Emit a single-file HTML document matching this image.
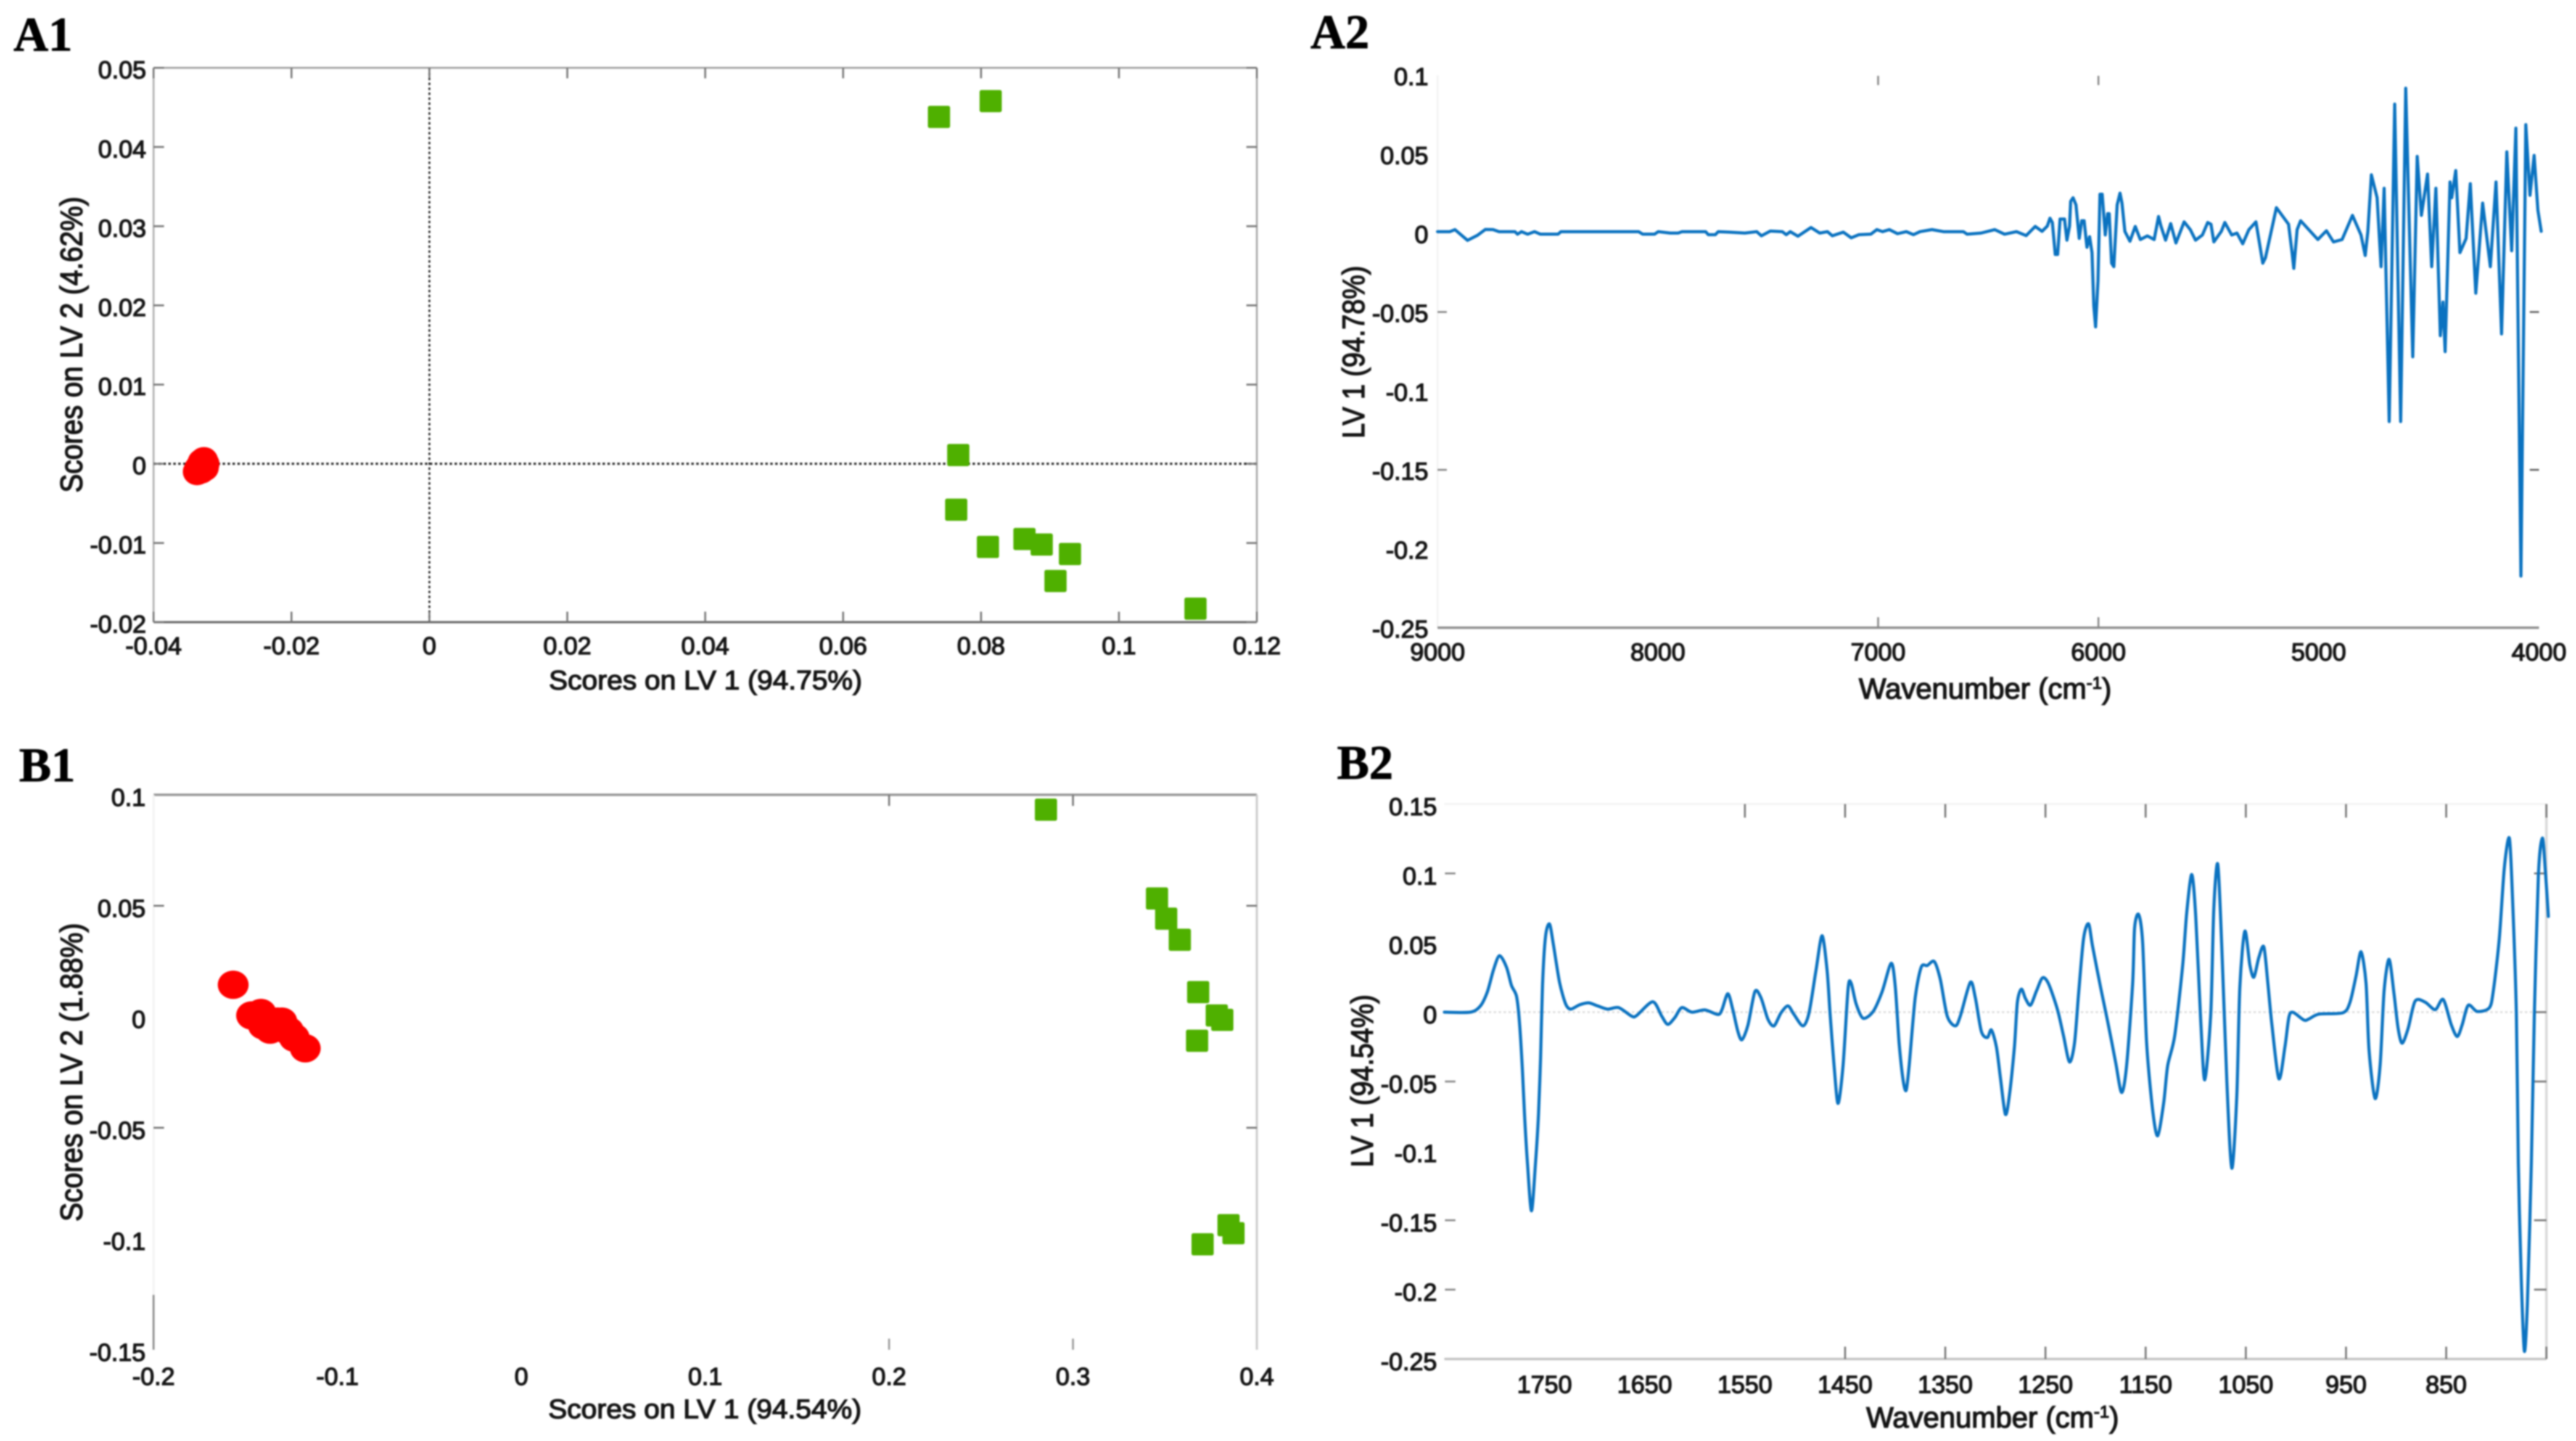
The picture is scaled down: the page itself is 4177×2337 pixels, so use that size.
<!DOCTYPE html>
<html lang="en">
<head>
<meta charset="utf-8">
<title>PLS-DA scores and loadings, panels A1 A2 B1 B2</title>
<style>
html,body{margin:0;padding:0;background:#fff;}
#figure{display:block;width:4177px;height:2337px;background:#fff;filter:blur(1.3px);}
text{font-family:"Liberation Sans",sans-serif;fill:#141414;}
.tick-label{font-size:40px;stroke:#141414;stroke-width:1.5px;}
.axis-title{font-size:44px;stroke:#141414;stroke-width:1.5px;}
.axis-title-y{font-size:50px;stroke:#141414;stroke-width:1.6px;}
.panel-label{font-family:"Liberation Serif",serif;font-weight:700;font-size:78px;fill:#000;stroke:#000;stroke-width:1px;}
</style>
</head>
<body>
<svg id="figure" xmlns="http://www.w3.org/2000/svg" width="4177" height="2337" viewBox="0 0 4177 2337">
  <rect x="0" y="0" width="4177" height="2337" fill="#ffffff"/>

  <text class="panel-label" x="22" y="82">A1</text>
  <text class="panel-label" x="2125" y="78">A2</text>
  <text class="panel-label" x="31" y="1267">B1</text>
  <text class="panel-label" x="2168" y="1263">B2</text>

  <g id="panel-a1"></g>
  <g id="panel-a2"></g>
  <g id="panel-b1"></g>
  <g id="panel-b2"></g>

  <text class="axis-title" x="1144" y="1118" text-anchor="middle" textLength="508" lengthAdjust="spacingAndGlyphs">Scores on LV 1 (94.75%)</text>
  <text class="axis-title-y" text-anchor="middle" textLength="480" lengthAdjust="spacingAndGlyphs" transform="translate(133,559) rotate(-90)">Scores on LV 2 (4.62%)</text>

  <text class="axis-title" x="3219" y="1133" text-anchor="middle" style="font-size:47px">Wavenumber (cm<tspan font-size="28" dy="-16">-1</tspan><tspan dy="16">)</tspan></text>
  <text class="axis-title-y" text-anchor="middle" textLength="280" lengthAdjust="spacingAndGlyphs" transform="translate(2212,571) rotate(-90)">LV 1 (94.78%)</text>

  <text class="axis-title" x="1143" y="2300" text-anchor="middle" textLength="508" lengthAdjust="spacingAndGlyphs">Scores on LV 1 (94.54%)</text>
  <text class="axis-title-y" text-anchor="middle" textLength="484" lengthAdjust="spacingAndGlyphs" transform="translate(133,1739) rotate(-90)">Scores on LV 2 (1.88%)</text>

  <text class="axis-title" x="3231" y="2315" text-anchor="middle" style="font-size:47px">Wavenumber (cm<tspan font-size="28" dy="-16">-1</tspan><tspan dy="16">)</tspan></text>
  <text class="axis-title-y" text-anchor="middle" textLength="280" lengthAdjust="spacingAndGlyphs" transform="translate(2226,1753) rotate(-90)">LV 1 (94.54%)</text>
</svg>

<script>
/* ---------- Panel A1 data ---------- */
var a1XTicks = [-0.04,-0.02,0,0.02,0.04,0.06,0.08,0.1,0.12];
var a1YTicks = [0.05,0.04,0.03,0.02,0.01,0,-0.01,-0.02];
var a1ClassAX = [-0.0337,-0.0335,-0.0332,-0.0330,-0.0327,-0.0325,-0.0326,-0.0331];
var a1ClassAY = [-0.0010,-0.0006,-0.0002,0.0002,0.0004,0.0000,-0.0005,-0.0008];
var a1ClassBX = [0.0739,0.0814,0.0767,0.0764,0.0810,0.0863,0.0888,0.0929,0.0908,0.1111];
var a1ClassBY = [0.0438,0.0458,0.0011,-0.0058,-0.0105,-0.0095,-0.0102,-0.0114,-0.0148,-0.0183];

/* ---------- Panel B1 data ---------- */
var b1XTicks = [-0.2,-0.1,0,0.1,0.2,0.3,0.4];
var b1YTicks = [0.1,0.05,0,-0.05,-0.1,-0.15];
var b1EdgeXTicks = [0.2,0.3];
var b1EdgeYTicks = [0.05,-0.05];
var b1ClassAX = [-0.1567,-0.1467,-0.1416,-0.1403,-0.1366,-0.1326,-0.1302,-0.1266,-0.1235,-0.1175];
var b1ClassAY = [0.0144,0.0006,0.0017,-0.0039,-0.0058,-0.0022,-0.0022,-0.0064,-0.0094,-0.0142];
var b1ClassBX = [0.2853,0.3457,0.3507,0.3581,0.3681,0.3782,0.3812,0.3675,0.3705,0.3846,0.3873];
var b1ClassBY = [0.0933,0.0533,0.0442,0.0347,0.0111,0.0006,-0.0014,-0.0108,-0.1025,-0.0939,-0.0975];

/* ---------- Panel A2 data ---------- */
var a2XTicks = [9000,8000,7000,6000,5000,4000];
var a2YTicks = [0.1,0.05,0,-0.05,-0.1,-0.15,-0.2,-0.25];
var a2EdgeXTicks = [7000,6000];
var a2EdgeYTicks = [-0.05,-0.15];
var a2Wavenumber = [9000,8944,8921,8864,8819,8783,8748,8721,8649,8637,8619,8591,8560,8533,8453,8440,8087,8069,8015,7998,7944,7908,7890,7783,7771,7739,7726,7676,7605,7551,7530,7489,7435,7417,7399,7364,7305,7265,7230,7208,7158,7122,7087,7033,7006,6980,6949,6912,6872,6840,6810,6756,6703,6613,6596,6533,6471,6426,6372,6328,6287,
6256,6232,6220,6209,6196,6185,6174,6154,6143,6131,6126,6115,6102,6087,6076,6065,6052,6040,6029,6021,6013,6002,5993,5983,5969,5958,5951,5940,5930,5915,5902,5893,5880,5857,5833,5810,5778,5747,5727,5716,5695,5672,5648,5611,5583,5559,5528,5504,5489,5476,5442,5426,5395,5371,5345,5317,5285,5270,5254,5242,5192,5137,5121,5113,5098,5082,5004,4965,4933,4894,4847,4808,4789,4777,4761,4735,4717,4703,4680,4655,4628,4605,4573,4553,4534,4506,4487,4468,4448,4436,4426,4404,4396,4378,4359,4331,4312,4287,4256,4221,4195,4170,4146,4124,4105,4082,4060,4041,4022,4005,3990];
var a2Loading = [0.0009,0.0009,0.0022,-0.0046,-0.0014,0.0023,0.0022,0.0009,0.0009,-0.0007,0.0009,-0.0007,0.0009,-0.0007,-0.0007,0.0009,0.0009,-0.0007,-0.0007,0.0009,0,0,0.0009,0.0009,-0.001,-0.001,0.0009,0.0006,0,0.0009,-0.0017,0.0013,0.0009,-0.001,0.0009,-0.002,0.0035,0,0.0009,-0.0017,0.0006,-0.003,-0.001,-0.0007,0.0022,0.0009,0.0022,-0.0004,0.0009,-0.001,0.0009,0.0022,0.0009,0.0009,-0.0007,0,0.0022,-0.0007,0.0009,-0.0016,0.0042,
0.0011,0.0044,0.0094,0.0067,-0.0135,-0.0135,0.0089,0.0089,-0.0045,0.0044,0.0201,0.0224,0.0179,-0.0034,0.0078,0.0078,-0.0090,-0.0023,-0.0124,-0.0460,-0.0594,-0.0303,0.0246,0.0246,-0.0012,0.0123,0.0123,-0.0191,-0.0213,0.0179,0.0253,0.0190,0.0011,-0.0052,0.0042,-0.0041,-0.0018,-0.0041,0.0105,0.0044,-0.0045,0.0060,-0.0063,0.0071,0.0022,-0.0045,-0.0012,0.0067,0.0056,-0.0056,0.0011,0.0067,-0.0012,0,-0.0068,0.0022,0.0071,-0.0056,-0.0191,-0.0157,0.0161,0.0056,-0.0124,-0.0224,0.0022,0.0078,-0.0041,0.0015,-0.0056,-0.0041,0.0112,-0.0012,-0.0142,0.0011,0.0369,0.0224,-0.0213,0.0284,-0.1194,0.0817,-0.1194,0.0918,-0.0784,0.0486,0.0112,0.0374,-0.0213,0.0284,-0.0650,-0.0437,-0.0751,0.0324,0.0224,0.0396,-0.0124,-0.0034,0.0313,-0.0381,0.0190,-0.0213,0.0324,-0.0639,0.0515,-0.0112,0.0665,-0.2173,0.0687,0.0239,0.0492,0.0145,0.0011];

/* ---------- Panel B2 data ---------- */
var b2XTicks = [1750,1650,1550,1450,1350,1250,1150,1050,950,850];
var b2YTicks = [0.15,0.1,0.05,0,-0.05,-0.1,-0.15,-0.2,-0.25];
var b2TopTicks = [1550,1450,1350,1250,1150,1050,950,850,750];
var b2BottomTicks = [1450,1350,1250,1150,1050,950,850,750];
var b2LeftTicks = [0.1,-0.05,-0.15,-0.2];
var b2RightTicks = [0.1,0,-0.05,-0.15,-0.2];
var b2Wavenumber = [1850,1824,1814,1807,1801,1795,1788,1783,1778,1775,1772,1770,1767,1763,1759,1756,1754,1752,1749,1745,1741,1735,1729,1724,1715,1706,1697,1687,1676,1663,1658,1642,1633,1627,1620,1613,1603,1590,1577,1573,1567,1562,1557,1553,1547,1540,1534,1527,1521,1514,1507,1501,1492,1486,1479,1473,1468,1465,1461,1457,1452,1447,1444,1439,1432,1422,1413,1404,1400,1396,1392,1389,1386,1380,1374,1368,1361,1355,1348,1340,1335,1325,1320,1314,1308,1304,1299,1295,1290,
1286,1281,1278,1274,1270,1265,1259,1253,1247,1238,1232,1226,1221,1217,1212,1207,1203,1195,1188,1180,1174,1169,1163,1161,1157,1153,1149,1143,1138,1132,1128,1121,1113,1109,1104,1100,1095,1091,1085,1082,1078,1074,1069,1064,1059,1056,1051,1046,1042,1037,1032,1028,1024,1017,1011,1007,1003,992,987,977,953,946,940,935,930,927,921,916,912,907,902,898,894,888,881,871,861,853,845,839,834,828,819,807,803,797,792,787,784,780,778,775,772,769,765,762,758,754,751,748];
var b2Loading = [0,0,0.0045,0.0148,0.0303,0.0407,0.0325,0.0193,0.0115,-0.0073,-0.0426,-0.0736,-0.1089,-0.1432,-0.1089,-0.0736,-0.0338,0.0193,0.0546,0.0635,0.0480,0.0215,0.0060,0.0022,0.0053,0.0067,0.0045,0.0022,0.0033,-0.0029,-0.0024,0.0075,-0.0029,-0.0088,-0.0040,0.0033,0,0.0016,-0.0017,0.0016,0.0133,0.0016,-0.0139,-0.0199,-0.0095,0.0148,0.0104,-0.0051,-0.0099,-0.0006,0.0045,-0.0017,-0.0099,-0.0006,0.0303,0.0551,0.0303,-0.0006,-0.0382,-0.0658,-0.0382,0.0170,0.0210,0.0060,-0.0044,0.0005,0.0148,0.0352,0.0193,-0.0227,-0.0493,-0.0563,-0.0382,0.0104,0.0325,0.0336,0.0365,0.0237,-0.0029,-0.0099,-0.0029,0.0215,0.0104,-0.0139,-0.0183,-0.0128,-0.0249,-0.0470,-0.0736,
-0.0601,-0.0251,0.0072,0.0166,0.0099,0.0050,0.0152,0.0247,0.0206,0.0018,-0.0170,-0.0359,-0.0224,0.0126,0.0529,0.0637,0.0475,0.0179,-0.0063,-0.0359,-0.0579,-0.0386,0.0206,0.0610,0.0704,0.0502,-0.0224,-0.0708,-0.0891,-0.0655,-0.0386,-0.0170,0.0341,0.0717,0.0992,0.0690,-0.0063,-0.0488,-0.0009,0.0744,0.1067,0.0475,-0.0493,-0.1125,-0.0601,0.0179,0.0583,0.0341,0.0252,0.0395,0.0470,0.0206,-0.0090,-0.0480,-0.0251,-0.0036,-0.0001,-0.0057,-0.0049,-0.0014,-0.0004,0.0072,0.0260,0.0435,0.0206,-0.0278,-0.0622,-0.0386,0.0152,0.0381,0.0126,-0.0117,-0.0224,-0.0117,0.0080,0.0072,0.0018,0.0091,-0.0090,-0.0176,-0.0090,0.0050,0.0005,0.0031,0.0152,0.0529,0.1040,0.1255,0.0852,-0.0009,-0.1085,-0.1946,-0.2444,-0.2107,-0.1085,-0.0009,0.0986,0.1255,0.1013,0.0690];

/* ---------- Axis functions ---------- */
function linear(d0, d1, r0, r1) {
  return function (v) { return r0 + (v - d0) / (d1 - d0) * (r1 - r0); };
}
var a1Sx = linear(-0.04, 0.12, 249, 2038);
var a1Sy = linear(-0.02, 0.05, 1009, 110);
var b1Sx = linear(-0.2, 0.4, 249, 2038);
var b1Sy = linear(-0.15, 0.1, 2189, 1289);
var a2Sx = linear(9000, 4000, 2331, 4117);
var a2Sy = linear(-0.25, 0.1, 1018, 122);
var b2Sx = linear(1850, 750, 2342, 4129);
var b2Sy = linear(-0.25, 0.15, 2204, 1304);

var SVG_NS = 'http://www.w3.org/2000/svg';

function drawLine(parent, name, x1, y1, x2, y2, color, width, dash) {
  var el = document.createElementNS(SVG_NS, 'line');
  
  
  el.setAttribute('x1', x1);
  el.setAttribute('y1', y1);
  el.setAttribute('x2', x2);
  el.setAttribute('y2', y2);
  el.setAttribute('stroke', color);
  el.setAttribute('stroke-width', width);
  if (dash) { el.setAttribute('stroke-dasharray', dash); }
  parent.appendChild(el);
}

function drawLabel(parent, name, x, y, anchor, content) {
  var el = document.createElementNS(SVG_NS, 'text');
  
  
  el.setAttribute('class', 'tick-label');
  el.setAttribute('x', x);
  el.setAttribute('y', y);
  el.setAttribute('text-anchor', anchor);
  el.textContent = content;
  parent.appendChild(el);
}

function xLabels(parent, prefix, values, sx, baseline) {
  values.forEach(function (v) {
    drawLabel(parent, prefix + '-x-tick-label', sx(v), baseline, 'middle', String(v));
  });
}
function yLabels(parent, prefix, values, sy, right, shift) {
  values.forEach(function (v) {
    drawLabel(parent, prefix + '-y-tick-label', right, sy(v) + shift, 'end', String(v));
  });
}
function xTickMarks(parent, name, values, sx, y, len, color, w) {
  values.forEach(function (v) {
    drawLine(parent, name, sx(v), y, sx(v), y + len, color, w);
  });
}
function yTickMarks(parent, name, values, sy, x, len, color, w) {
  values.forEach(function (v) {
    drawLine(parent, name, x, sy(v), x + len, sy(v), color, w);
  });
}

function drawSquares(parent, name, xs, ys, sx, sy, size) {
  xs.forEach(function (v, i) {
    var el = document.createElementNS(SVG_NS, 'rect');
    
    
    el.setAttribute('x', sx(v) - size / 2);
    el.setAttribute('y', sy(ys[i]) - size / 2);
    el.setAttribute('width', size);
    el.setAttribute('height', size);
    el.setAttribute('rx', 3);
    el.setAttribute('fill', '#4fb000');
    parent.appendChild(el);
  });
}
function drawCircles(parent, name, xs, ys, sx, sy, rx, ry) {
  xs.forEach(function (v, i) {
    var el = document.createElementNS(SVG_NS, 'ellipse');
    
    
    el.setAttribute('cx', sx(v));
    el.setAttribute('cy', sy(ys[i]));
    el.setAttribute('rx', rx);
    el.setAttribute('ry', ry);
    el.setAttribute('fill', '#ff0000');
    parent.appendChild(el);
  });
}
function straightPath(pts) {
  return pts.map(function (p, i) { return (i ? 'L' : 'M') + p[0].toFixed(1) + ' ' + p[1].toFixed(1); }).join('');
}
function smoothPath(pts) {
  var d = 'M' + pts[0][0].toFixed(1) + ' ' + pts[0][1].toFixed(1);
  for (var i = 0; i < pts.length - 1; i++) {
    var p0 = pts[Math.max(i - 1, 0)], p1 = pts[i], p2 = pts[i + 1], p3 = pts[Math.min(i + 2, pts.length - 1)];
    var k = 0.14;
    d += 'C' + (p1[0] + (p2[0] - p0[0]) * k).toFixed(1) + ' ' + (p1[1] + (p2[1] - p0[1]) * k).toFixed(1) + ' ' +
         (p2[0] - (p3[0] - p1[0]) * k).toFixed(1) + ' ' + (p2[1] - (p3[1] - p1[1]) * k).toFixed(1) + ' ' +
         p2[0].toFixed(1) + ' ' + p2[1].toFixed(1);
  }
  return d;
}
function drawSpectrum(parent, name, xs, ys, sx, sy, smooth, width) {
  var pts = xs.map(function (v, i) { return [sx(v), sy(ys[i])]; });
  var el = document.createElementNS(SVG_NS, 'path');
  
  
  el.setAttribute('d', smooth ? smoothPath(pts) : straightPath(pts));
  el.setAttribute('fill', 'none');
  el.setAttribute('stroke', '#0a72c0');
  el.setAttribute('stroke-width', width);
  el.setAttribute('stroke-linejoin', 'round');
  el.setAttribute('stroke-linecap', 'round');
  parent.appendChild(el);
}

/* ---------- Panel A1 ---------- */
var gA1 = document.getElementById('panel-a1');
drawLine(gA1, 'a1-top-axis', 249, 110, 2038, 110, '#a0a0a0', 3);
drawLine(gA1, 'a1-right-axis', 2038, 110, 2038, 1009, '#a8a8a8', 3);
drawLine(gA1, 'a1-bottom-axis', 249, 1009, 2038, 1009, '#666666', 3.5);
drawLine(gA1, 'a1-left-axis', 249, 110, 249, 1009, '#b0b0b0', 3);
drawLine(gA1, 'a1-zero-line-horizontal', 249, a1Sy(0), 2038, a1Sy(0), '#222222', 3.5, '4 4');
drawLine(gA1, 'a1-zero-line-vertical', a1Sx(0), 110, a1Sx(0), 1009, '#222222', 3, '4 4');
xTickMarks(gA1, 'a1-top-tick', a1XTicks, a1Sx, 110, 17, '#777777', 3);
xTickMarks(gA1, 'a1-bottom-tick', a1XTicks, a1Sx, 992, 17, '#777777', 3);
yTickMarks(gA1, 'a1-left-tick', a1YTicks, a1Sy, 249, 17, '#777777', 3);
yTickMarks(gA1, 'a1-right-tick', a1YTicks, a1Sy, 2021, 17, '#777777', 3);
xLabels(gA1, 'a1', a1XTicks, a1Sx, 1061);
yLabels(gA1, 'a1', a1YTicks, a1Sy, 237, 17);
drawCircles(gA1, 'a1-class-a-point', a1ClassAX, a1ClassAY, a1Sx, a1Sy, 23, 22);
drawSquares(gA1, 'a1-class-b-point', a1ClassBX, a1ClassBY, a1Sx, a1Sy, 36);

/* ---------- Panel B1 ---------- */
var gB1 = document.getElementById('panel-b1');
drawLine(gB1, 'b1-top-axis', 249, 1289, 2038, 1289, '#999999', 4);
drawLine(gB1, 'b1-right-axis', 2038, 1289, 2038, 2189, '#cccccc', 3.5);
drawLine(gB1, 'b1-left-axis-faint', 249, 1289, 249, 2100, '#f2f2f2', 3);
drawLine(gB1, 'b1-left-axis', 249, 2100, 249, 2189, '#888888', 3);
xTickMarks(gB1, 'b1-top-tick', b1EdgeXTicks, b1Sx, 1289, 18, '#777777', 3);
xTickMarks(gB1, 'b1-bottom-tick', b1EdgeXTicks, b1Sx, 2171, 18, '#999999', 3);
yTickMarks(gB1, 'b1-left-tick', b1EdgeYTicks, b1Sy, 249, 17, '#777777', 3);
yTickMarks(gB1, 'b1-right-tick', b1EdgeYTicks, b1Sy, 2021, 17, '#777777', 3);
xLabels(gB1, 'b1', b1XTicks, b1Sx, 2246);
yLabels(gB1, 'b1', b1YTicks, b1Sy, 236, 18);
drawCircles(gB1, 'b1-class-a-point', b1ClassAX, b1ClassAY, b1Sx, b1Sy, 25, 23);
drawSquares(gB1, 'b1-class-b-point', b1ClassBX, b1ClassBY, b1Sx, b1Sy, 36);

/* ---------- Panel A2 ---------- */
var gA2 = document.getElementById('panel-a2');
drawLine(gA2, 'a2-left-axis-faint', 2331, 122, 2331, 1018, '#f3f3f3', 3);
drawLine(gA2, 'a2-bottom-axis', 2331, 1018, 4117, 1018, '#909090', 4);
xTickMarks(gA2, 'a2-top-tick', a2EdgeXTicks, a2Sx, 123, 15, '#888888', 3);
xTickMarks(gA2, 'a2-bottom-tick', a2EdgeXTicks, a2Sx, 1001, 17, '#888888', 3);
yTickMarks(gA2, 'a2-left-tick', a2EdgeYTicks, a2Sy, 2331, 15, '#888888', 3);
yTickMarks(gA2, 'a2-right-tick', a2EdgeYTicks, a2Sy, 4102, 15, '#666666', 3);
xLabels(gA2, 'a2', a2XTicks, a2Sx, 1071);
yLabels(gA2, 'a2', a2YTicks, a2Sy, 2316, 16);
drawSpectrum(gA2, 'a2-loading-line', a2Wavenumber, a2Loading, a2Sx, a2Sy, false, 5);

/* ---------- Panel B2 ---------- */
var gB2 = document.getElementById('panel-b2');
drawLine(gB2, 'b2-top-axis-faint', 2342, 1304, 4129, 1304, '#f3f3f3', 3);
drawLine(gB2, 'b2-right-axis', 4129, 1304, 4129, 2204, '#d8d8d8', 4);
drawLine(gB2, 'b2-bottom-axis', 2342, 2204, 4129, 2204, '#c4c4c4', 4);
drawLine(gB2, 'b2-zero-line', 2342, b2Sy(0), 4129, b2Sy(0), '#dddddd', 3, '4 4');
xTickMarks(gB2, 'b2-top-tick', b2TopTicks, b2Sx, 1304, 22, '#777777', 3);
xTickMarks(gB2, 'b2-bottom-tick', b2BottomTicks, b2Sx, 2184, 20, '#777777', 3);
yTickMarks(gB2, 'b2-left-tick', b2LeftTicks, b2Sy, 2343, 17, '#888888', 3);
yTickMarks(gB2, 'b2-right-tick', b2RightTicks, b2Sy, 4109, 20, '#777777', 3);
xLabels(gB2, 'b2', b2XTicks, b2Sx, 2259);
yLabels(gB2, 'b2', b2YTicks, b2Sy, 2330, 18);
drawSpectrum(gB2, 'b2-loading-line', b2Wavenumber, b2Loading, b2Sx, b2Sy, true, 5);
</script>
</body>
</html>
